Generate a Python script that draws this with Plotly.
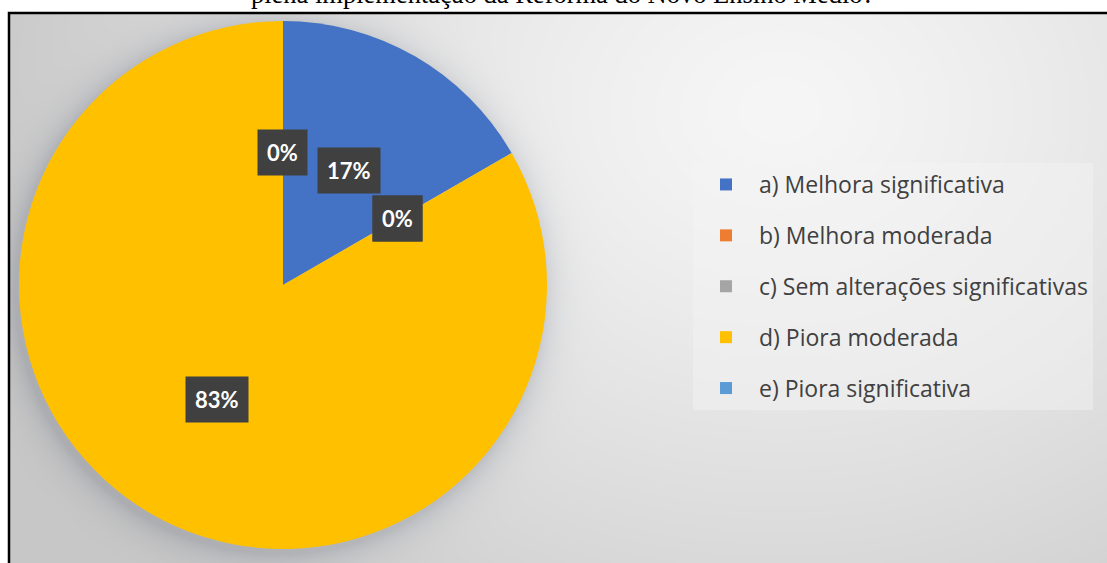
import base64, struct, zlib, math
import numpy as np
import plotly.graph_objects as go

# ---------------- data ----------------
categories = [
    "a) Melhora significativa",
    "b) Melhora moderada",
    "c) Sem alterações significativas",
    "d) Piora moderada",
    "e) Piora significativa",
]
values = [1, 0, 0, 5, 0]
colors = ["#4472C4", "#ED7D31", "#A5A5A5", "#FFC000", "#5B9BD5"]
title_text = "plena implementação da Reforma do Novo Ensino Médio?"

W, H = 1107, 563
# pie box in pixels
PX0, PX1, PY0, PY1 = 18, 548, 21, 549
CX, CY = (PX0 + PX1) / 2, (PY0 + PY1) / 2
R = (PX1 - PX0) / 2

# ---------------- background gradient (style only) ----------------
FX0, FY0 = 9, 13
gw, gh = (W - FX0) // 2, (H - FY0) // 2
jj, ii = np.mgrid[0:gh, 0:gw]
X = FX0 + (ii + 0.5) * (W - FX0) / gw
Y = FY0 + (jj + 0.5) * (H - FY0) / gh
d = np.sqrt((X - 780) ** 2 + ((Y - 110) * 1.25) ** 2)
t = np.clip(d / 820.0, 0, 1)
c = 246 - (246 - 200) * t ** 1.3
dp = np.sqrt((X - CX + 3) ** 2 + (Y - CY - 4) ** 2)
sh = np.where(dp > R, np.exp(-(dp - R) / 14.0), 1.0) * 28
img = np.stack([c - sh, c - sh * 0.95, c - sh * 0.8], axis=-1)
img = np.clip(img, 0, 255).astype(np.uint8)


def to_png(a):
    h, w, _ = a.shape
    raw = b"".join(b"\x00" + a[r].tobytes() for r in range(h))

    def chunk(tag, data):
        return (struct.pack(">I", len(data)) + tag + data +
                struct.pack(">I", zlib.crc32(tag + data) & 0xFFFFFFFF))

    return (b"\x89PNG\r\n\x1a\n" +
            chunk(b"IHDR", struct.pack(">IIBBBBB", w, h, 8, 2, 0, 0, 0)) +
            chunk(b"IDAT", zlib.compress(raw, 9)) + chunk(b"IEND", b""))


bg_uri = "data:image/png;base64," + base64.b64encode(to_png(img)).decode()

fig = go.Figure()

fig.add_trace(go.Pie(
    labels=categories, values=values, sort=False, direction="clockwise",
    rotation=0, marker=dict(colors=colors, line=dict(width=0)),
    textinfo="none", hoverinfo="label+percent", showlegend=False,
    domain=dict(x=[PX0 / W, PX1 / W], y=[1 - PY1 / H, 1 - PY0 / H]),
))

# legend entries
for cat, col in zip(categories, colors):
    fig.add_trace(go.Scatter(
        x=[None], y=[None], mode="markers", name=cat, legendgroup=cat,
        marker=dict(symbol="square", size=12, color=col),
    ))

# data labels at half radius of each slice
total = sum(values)
cum = 0.0
annotations = []
for v in values:
    mid = (cum + v / 2) / total * 2 * math.pi
    cum += v
    x = CX + 0.5 * R * math.sin(mid)
    y = CY - 0.5 * R * math.cos(mid)
    annotations.append(dict(
        x=x / W, y=1 - y / H, xref="paper", yref="paper", showarrow=False,
        xanchor="center", yanchor="middle",
        text="<b>%d%%</b>" % round(v / total * 100),
        font=dict(family="Lato", size=22, color="white"),
        bgcolor="#404040", borderpad=9,
    ))

annotations.append(dict(
    x=562 / W, y=1 + 6 / H, xref="paper", yref="paper", showarrow=False,
    text=title_text, xanchor="center", yanchor="middle",
    font=dict(family="Liberation Serif", size=26.5, color="black"),
))

fig.update_layout(
    width=W, height=H, margin=dict(l=0, r=0, t=0, b=0),
    paper_bgcolor="white", plot_bgcolor="rgba(0,0,0,0)",
    xaxis=dict(visible=False), yaxis=dict(visible=False),
    images=[dict(source=bg_uri, xref="paper", yref="paper",
                 x=FX0 / W, y=1 - FY0 / H, sizex=1 - FX0 / W, sizey=1 - FY0 / H,
                 xanchor="left", yanchor="top", sizing="stretch", layer="below")],
    shapes=[dict(type="rect", xref="paper", yref="paper",
                 x0=FX0 / W, x1=1.01, y0=-0.01, y1=1 - FY0 / H,
                 line=dict(color="black", width=2.5), layer="above")],
    annotations=annotations,
    legend=dict(x=693 / W, y=1 - 163 / H, xanchor="left", yanchor="top",
                bgcolor="rgba(245,245,245,0.45)", tracegroupgap=18,
                font=dict(family="Open Sans", size=23, color="#404040"),
                itemwidth=56),
    showlegend=True,
)

fig.write_html("out.html", config={"displayModeBar": False},
               post_script="document.body.style.margin='0';")
